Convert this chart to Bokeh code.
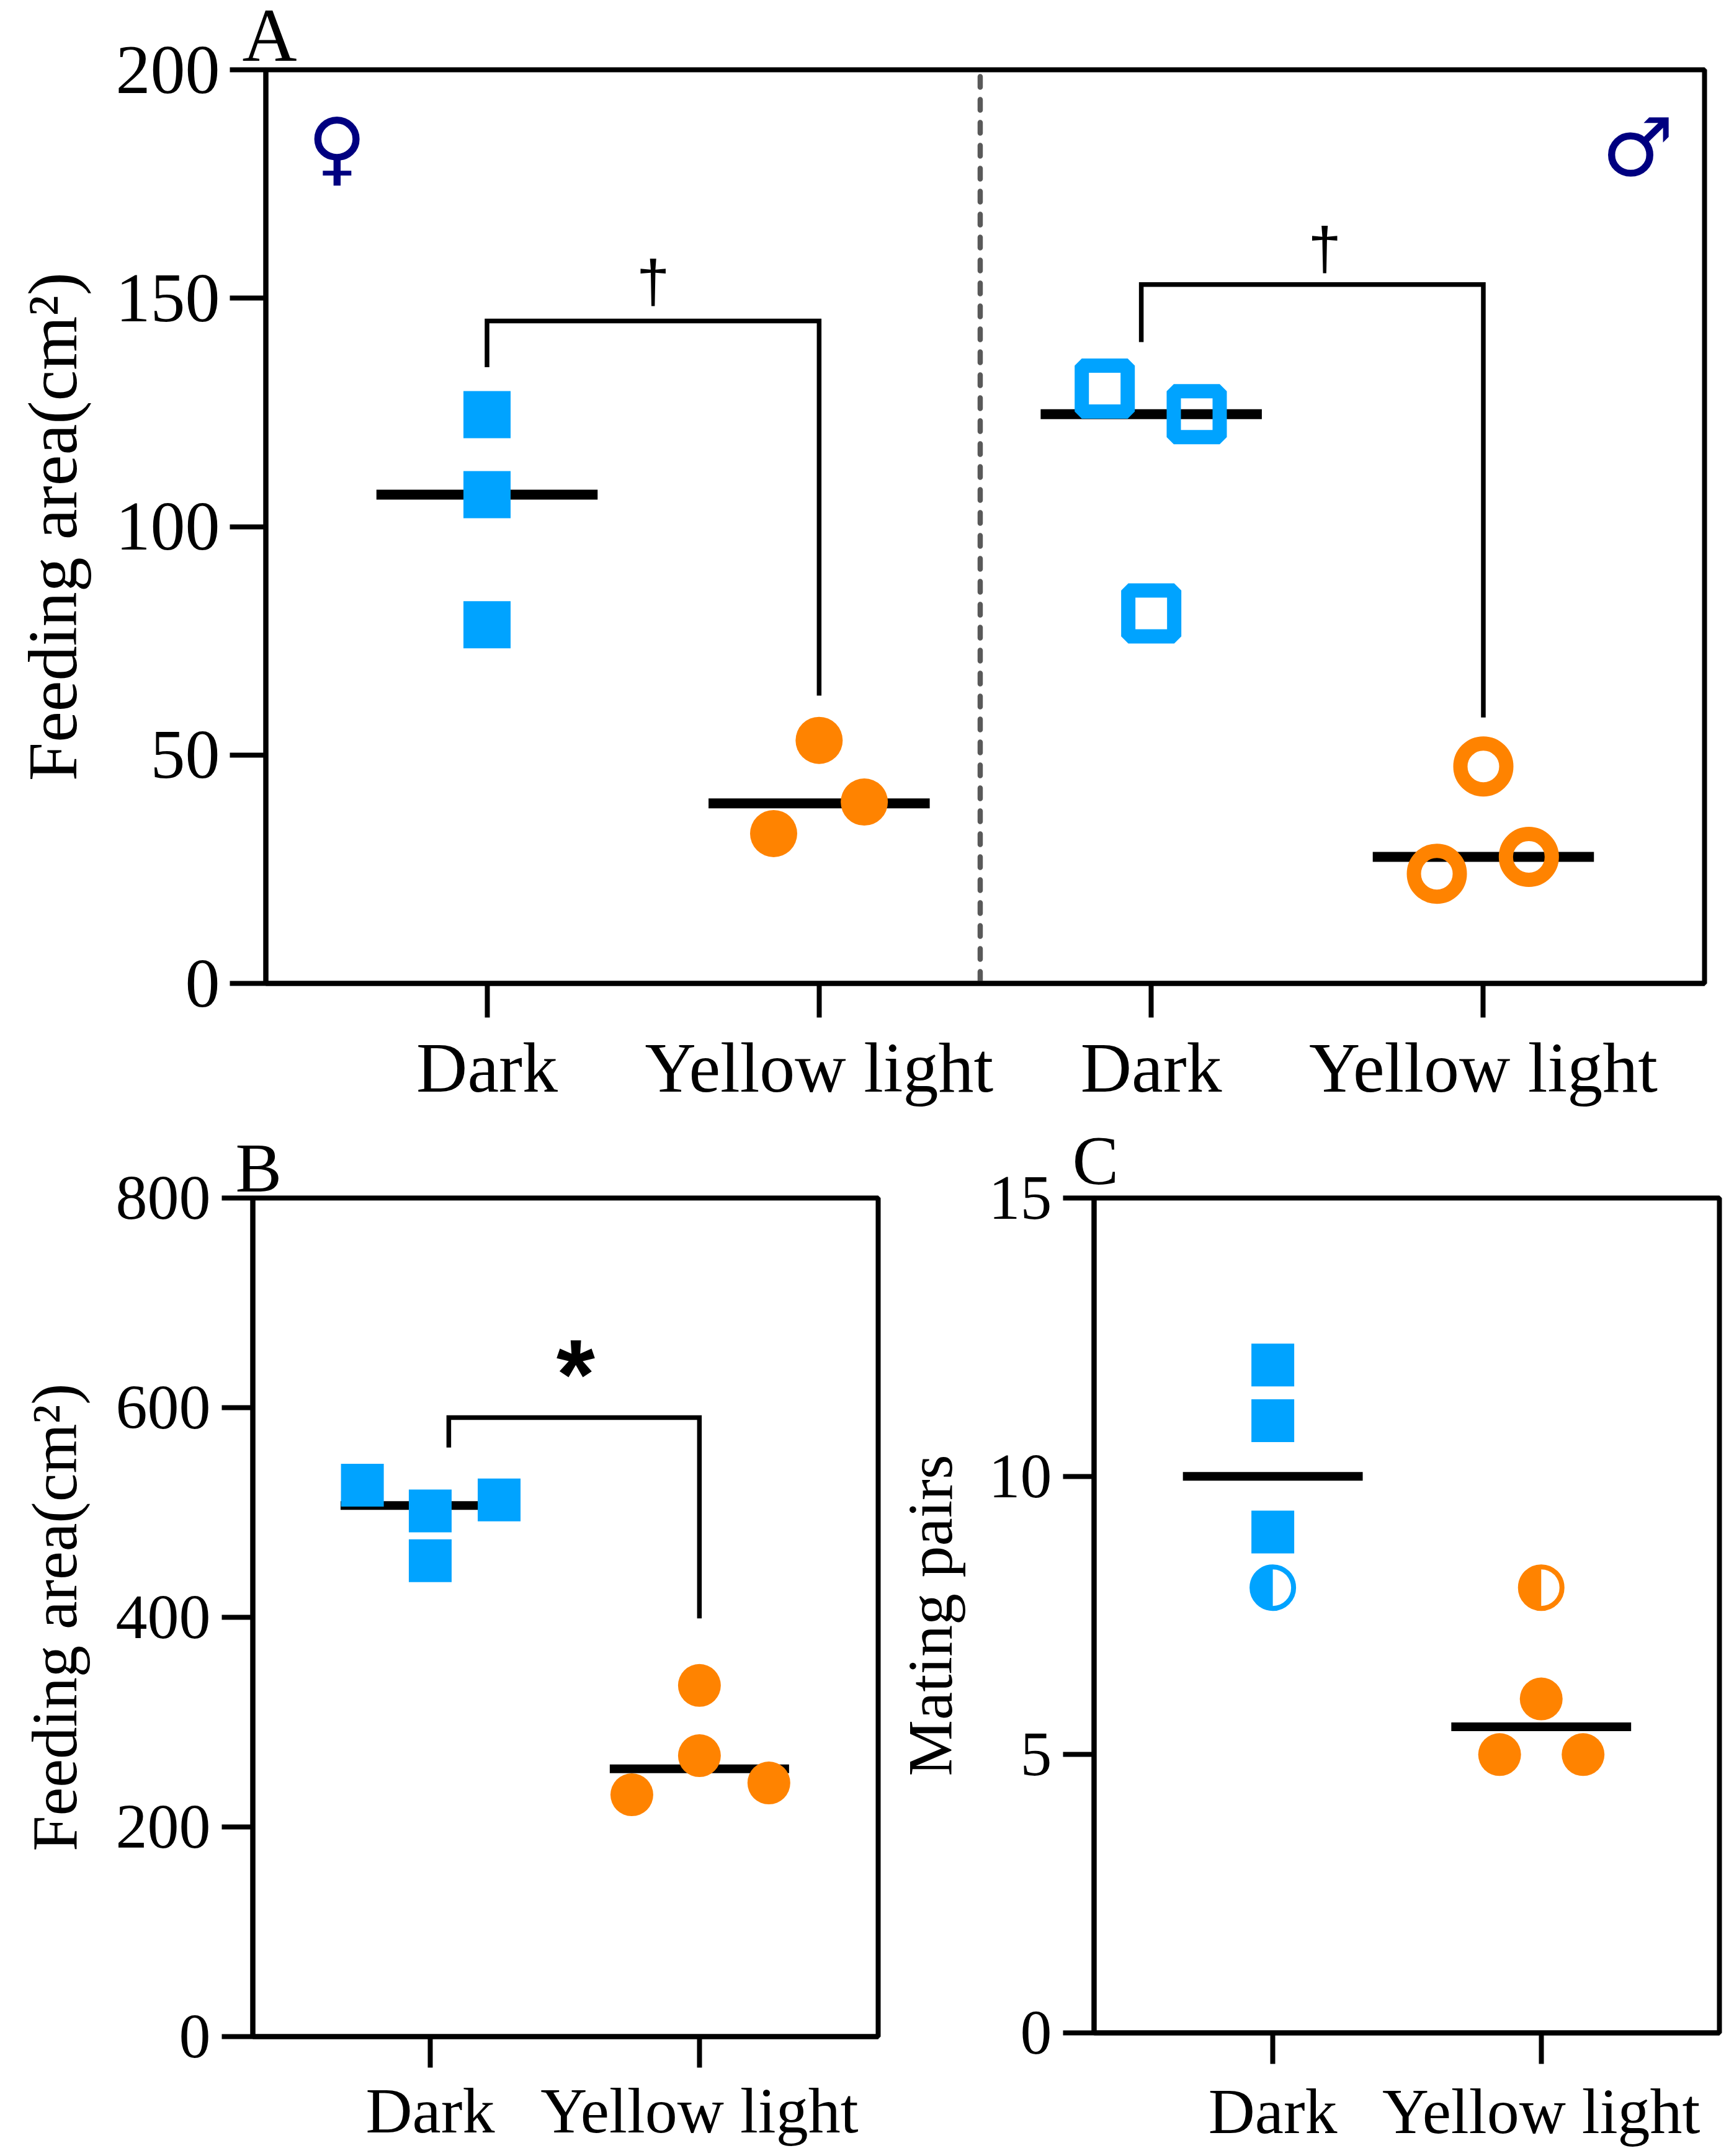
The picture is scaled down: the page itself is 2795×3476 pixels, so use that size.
import math
from bokeh.plotting import figure
from bokeh.models import Range1d, FixedTicker, Label
from bokeh.layouts import column, row
from bokeh.embed import file_html
from bokeh.resources import INLINE
from bokeh.core.properties import value

BLUE = "#00A3FF"
ORANGE = "#FF8300"
SERIF = "Liberation Serif"

# Panel A
a_xticks = [1, 2, 3, 4]
a_xlabels = ["Dark", "Yellow light", "Dark", "Yellow light"]
a_yticks = [0, 50, 100, 150, 200]
a_f_dark_x = [1, 1, 1]
a_f_dark_y = [124.5, 107, 78.5]
a_f_yellow_x = [1.863, 2, 2.136]
a_f_yellow_y = [32.8, 53.2, 39.7]
a_m_dark_x = [2.86, 3.137, 3]
a_m_dark_y = [130.2, 124.6, 81]
a_m_yellow_x = [3.86, 4, 4.137]
a_m_yellow_y = [24, 47.5, 27.7]
a_mean_x = [1, 2, 3, 4]
a_mean_y = [107, 39.4, 124.6, 27.7]
a_bracket1_x = [1, 1, 2, 2]
a_bracket1_y = [134.9, 145, 145, 63]
a_bracket2_x = [2.97, 2.97, 4, 4]
a_bracket2_y = [140.4, 153, 153, 58.2]
a_divider_x = [2.485, 2.485]
a_divider_y = [198.5, 0]

# Panel B
b_xticks = [1, 2]
b_xlabels = ["Dark", "Yellow light"]
b_yticks = [0, 200, 400, 600, 800]
b_dark_x = [0.748, 1, 1.256, 1]
b_dark_y = [526, 501.5, 512, 454]
b_yellow_x = [1.749, 2, 2.258, 2]
b_yellow_y = [230.7, 268, 242, 335]
b_mean_x = [1, 2]
b_mean_y = [506.7, 255.5]
b_bracket_x = [1.069, 1.069, 2, 2]
b_bracket_y = [562, 590.6, 590.6, 399]

# Panel C
c_xticks = [1, 2]
c_xlabels = ["Dark", "Yellow light"]
c_yticks = [0, 5, 10, 15]
c_dark_x = [1, 1, 1]
c_dark_y = [12, 11, 9]
c_yellow_x = [1.845, 2, 2.156]
c_yellow_y = [5, 6, 5]
c_half_x = [1, 2]
c_half_y = [8, 8]
c_half_colors = [BLUE, ORANGE]
c_mean_x = [1, 2]
c_mean_y = [10, 5.5]


def make(width, height, frame_h, left, right, top, bottom, xr, yr, xticks, xlabels, yticks,
         ylabel, tick_size, y_standoff, x_size, title_size, tick_out_x, tick_out_y, x_standoff,
         title_standoff, panel, panel_size, panel_offset, panel_standoff):
    p = figure(width=width, height=height, frame_height=frame_h,
               x_range=Range1d(*xr), y_range=Range1d(*yr),
               output_backend="svg", toolbar_location=None,
               min_border_left=left, min_border_right=right,
               min_border_top=top, min_border_bottom=bottom,
               background_fill_color="white", border_fill_color="white")
    p.title.text = panel
    p.title.align = "left"
    p.title.vertical_align = "middle"
    p.title.text_baseline = "bottom"
    p.title.offset = panel_offset
    p.title.standoff = panel_standoff
    p.title.text_font = SERIF
    p.title.text_font_style = "normal"
    p.title.text_font_size = f"{panel_size}px"
    p.title.text_color = "black"
    p.grid.visible = False
    p.outline_line_color = "black"
    p.outline_line_width = 8
    p.outline_line_alpha = 1
    for ax in (p.xaxis[0], p.yaxis[0]):
        ax.axis_line_color = "black"
        ax.axis_line_width = 8
        ax.major_tick_line_color = "black"
        ax.major_tick_line_width = 8
        ax.major_tick_in = 0
        ax.minor_tick_line_color = None
        ax.major_label_text_font = SERIF
        ax.major_label_text_color = "black"
    xa = p.xaxis[0]
    xa.ticker = FixedTicker(ticks=xticks)
    xa.major_label_overrides = {t: l for t, l in zip(xticks, xlabels)}
    xa.major_label_text_font_size = f"{x_size}px"
    xa.major_tick_out = tick_out_x
    xa.major_label_standoff = x_standoff
    ya = p.yaxis[0]
    ya.ticker = FixedTicker(ticks=yticks)
    ya.major_label_text_font_size = f"{tick_size}px"
    ya.major_tick_out = tick_out_y
    ya.major_label_standoff = y_standoff
    ya.axis_label = ylabel
    ya.axis_label_text_font = SERIF
    ya.axis_label_text_font_style = "normal"
    ya.axis_label_text_font_size = f"{title_size}px"
    ya.axis_label_text_color = "black"
    ya.axis_label_standoff = title_standoff
    return p


def means(p, xs, ys, half, lw=15):
    p.segment(x0=[x - half for x in xs], y0=ys, x1=[x + half for x in xs], y1=ys,
              line_color="black", line_width=lw, line_cap="butt")


def filled(p, xs, ys, marker, color, size):
    p.scatter(x=xs, y=ys, marker=marker, size=size, fill_color=color, line_color=None)


def hollow(p, xs, ys, marker, color, size, lw):
    p.scatter(x=xs, y=ys, marker=marker, size=size, fill_color=None, line_color=color,
              line_width=lw, line_join="bevel")


def bracket(p, xs, ys):
    p.line(x=xs, y=ys, line_color="black", line_width=7.5, line_join="miter", line_cap="butt")


def sign(p, x, y, text, font, size, style="normal"):
    p.text(x=[x], y=[y], text=[text], text_font=value(font), text_font_size=f"{size}px",
           text_font_style=style, text_align="center", text_baseline="alphabetic",
           text_color="black")


def symbol(p, x, y, text, size=130, color="#000080", font="DejaVu Sans"):
    p.add_layout(Label(x=x, y=y, text=text, text_font=font, text_font_size=f"{size}px",
                       text_color=color, text_align="center", text_baseline="alphabetic"))


# ---------- A
pa = make(2787, 1800, 1473, 428, 40, 112, 215, (0.334, 4.666), (0, 200), a_xticks, a_xlabels, a_yticks,
          "Feeding area(cm²)", 112, 16, 114, 112, 55, 58, 17, 37, "A", 122, -38, -25)
pa.line(x=a_divider_x, y=a_divider_y, line_color="#595959", line_width=8.5,
        line_dash="17 20", line_cap="round")
means(pa, a_mean_x, a_mean_y, 0.333, 16)
bracket(pa, a_bracket1_x, a_bracket1_y)
bracket(pa, a_bracket2_x, a_bracket2_y)
filled(pa, a_f_dark_x, a_f_dark_y, "square", BLUE, 76)
filled(pa, a_f_yellow_x, a_f_yellow_y, "circle", ORANGE, 76)
hollow(pa, a_m_dark_x, a_m_dark_y, "square", BLUE, 74, 23)
hollow(pa, a_m_yellow_x, a_m_yellow_y, "circle", ORANGE, 74, 23)
sign(pa, 1.5, 153.7, "†", "Liberation Sans", 96)
sign(pa, 3.522, 160.9, "†", "Liberation Sans", 96)
symbol(pa, 0.548, 183, "♀")
symbol(pa, 4.465, 183, "♂")

# ---------- B
pb = make(1425, 1676, 1352, 407, 10, 131, 193, (0.341, 2.664), (0, 800), b_xticks, b_xlabels, b_yticks,
          "Feeding area(cm²)", 102, 18, 104, 103, 50, 50, 11, 39, "B", 112, -28, -28)
means(pb, b_mean_x, b_mean_y, 0.333, 14)
bracket(pb, b_bracket_x, b_bracket_y)
filled(pb, b_dark_x, b_dark_y, "square", BLUE, 69)
filled(pb, b_yellow_x, b_yellow_y, "circle", ORANGE, 69)
sign(pb, 1.54, 632, "*", "Liberation Sans", 160, "bold")

# ---------- C
pc = make(1370, 1676, 1346, 338, 24, 129, 201, (0.334, 2.664), (0, 15), c_xticks, c_xlabels, c_yticks,
          "Mating pairs", 102, 18, 104, 102, 50, 50, 18, 35, "C", 112, -35, -4)
means(pc, c_mean_x, c_mean_y, 0.335, 14)
filled(pc, c_dark_x, c_dark_y, "square", BLUE, 69)
filled(pc, c_yellow_x, c_yellow_y, "circle", ORANGE, 69)
pc.scatter(x=c_half_x, y=c_half_y, marker="circle", size=67, fill_color="white",
           line_color=c_half_colors, line_width=8)
pc.wedge(x=c_half_x, y=c_half_y, radius=36, radius_units="screen",
         start_angle=math.pi / 2, end_angle=3 * math.pi / 2,
         fill_color=c_half_colors, line_color=None)

page = column(pa, row(pb, pc, spacing=0), spacing=0)
open("out.html", "w").write(file_html(page, INLINE))
